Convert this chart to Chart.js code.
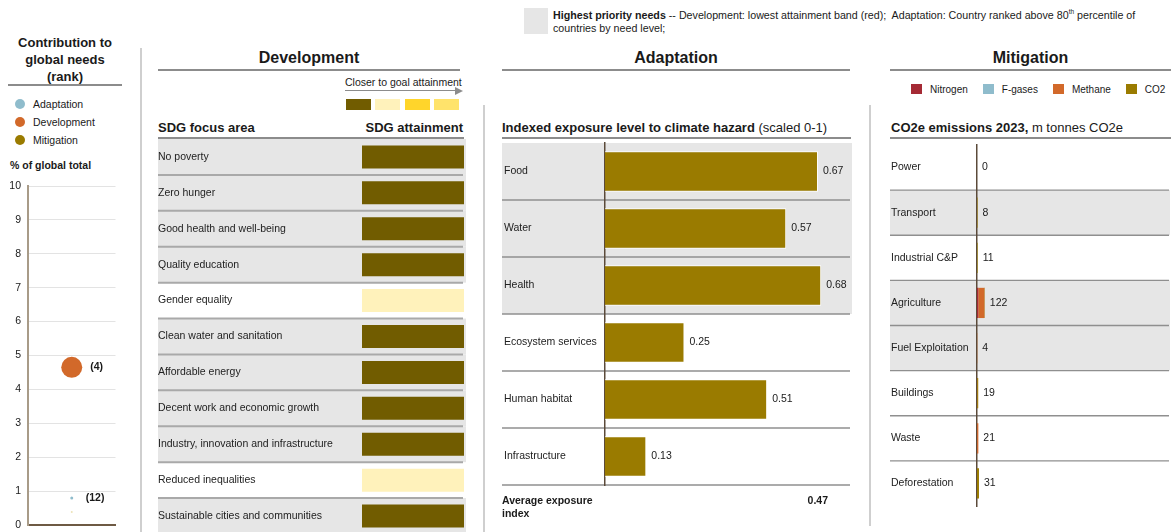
<!DOCTYPE html>
<html lang="en">
<head>
<meta charset="UTF-8">
<title>Contribution to global needs</title>
<style>
  body { margin:0; width:1171px; height:532px; overflow:hidden; background:#fff; position:relative;
         font-family: Arial, "Liberation Sans", sans-serif; color:#1a1a1a; }
  .abs { position:absolute; white-space:nowrap; }
  .title { font-weight:bold; font-size:16px; line-height:20px; text-align:center; }
  .sub { font-size:13px; line-height:16px; }
  .rule { position:absolute; height:0; border-top:2px solid #8c8c8c; }
  .vline { position:absolute; width:0; border-left:2px solid #cfcfcf; }
  .small { font-size:10.5px; line-height:13px; }
  canvas { position:absolute; }
  .lg { height:18px; line-height:18px; font-size:10.5px; display:flex; align-items:center; }
  .dot { width:10px; height:10px; border-radius:50%; margin:0 8px 0 15px; display:inline-block; }
  .gas { display:flex; align-items:center; margin-right:15px; font-size:10px; }
  .gas span { width:11px; height:10px; display:inline-block; margin-right:8px; }
  .sw { position:absolute; top:99px; width:25px; height:11px; }
</style>
</head>
<body>

<!-- top note -->
<div class="abs" style="left:524px;top:8px;width:24px;height:26px;background:#e6e6e6"></div>
<div class="abs" style="left:553px;top:8.5px;font-size:10.7px;line-height:13px">
<b>Highest priority needs</b> -- Development: lowest attainment band (red);&nbsp; Adaptation: Country ranked above 80<sup style="font-size:6.5px;line-height:0">th</sup> percentile of<br>countries by need level;</div>

<!-- left panel -->
<div class="abs title" style="left:0;width:130px;top:33.5px;font-size:13px;line-height:17px">Contribution to<br>global needs<br>(rank)</div>
<div class="rule" style="left:8px;width:114px;top:84px"></div>
<div id="rankLegend" class="abs" style="left:0;top:95px"></div>
<div class="abs small" style="left:10px;top:158.5px;font-weight:bold">% of global total</div>
<canvas id="rankChart" width="126" height="375" style="left:0;top:172px"></canvas>
<div class="vline" style="left:140px;top:48px;height:484px"></div>

<!-- development -->
<div class="abs title" style="left:158px;width:302px;top:48px">Development</div>
<div class="rule" style="left:158px;width:302px;top:69px"></div>
<div class="abs small" style="left:345px;top:75.5px">Closer to goal attainment</div>
<div class="abs" style="left:345px;top:90px;width:111px;border-top:1.5px solid #8c8c8c"></div>
<div class="abs" style="left:455px;top:86.5px;width:0;height:0;border-top:4.5px solid transparent;border-bottom:4.5px solid transparent;border-left:8px solid #8c8c8c"></div>
<div id="bandLegend"></div>
<div class="abs sub" style="left:158px;top:120px;font-weight:bold">SDG focus area</div>
<div class="abs sub" style="right:708px;top:120px;font-weight:bold">SDG attainment</div>
<div class="rule" style="left:158px;width:306px;top:137px"></div>
<canvas id="sdgChart" width="308" height="415" style="left:158px;top:129px"></canvas>
<div class="vline" style="left:483px;top:105px;height:427px"></div>

<!-- adaptation -->
<div class="abs title" style="left:502px;width:348px;top:48px">Adaptation</div>
<div class="rule" style="left:502px;width:348px;top:69px"></div>
<div class="abs sub" style="left:502px;top:120px"><b>Indexed exposure level to climate hazard</b> (scaled 0-1)</div>
<div class="rule" style="left:502px;width:349px;top:137px"></div>
<canvas id="hazardChart" width="351" height="362" style="left:502px;top:133px"></canvas>
<div class="abs small" style="left:502px;top:493.5px;font-weight:bold">Average exposure<br>index</div>
<div id="avgValue" class="abs small" style="right:343px;top:493.5px;font-weight:bold"></div>
<div class="vline" style="left:869px;top:105px;height:421px"></div>

<!-- mitigation -->
<div class="abs title" style="left:890px;width:281px;top:48px">Mitigation</div>
<div class="rule" style="left:890px;width:281px;top:69px"></div>
<div id="gasLegend" class="abs" style="left:911px;top:82.5px;display:flex;height:13px"></div>
<div class="abs sub" style="left:891px;top:120px"><b>CO2e emissions 2023,</b> m tonnes CO2e</div>
<div class="rule" style="left:890px;width:281px;top:137px"></div>
<canvas id="emisChart" width="280" height="381" style="left:890px;top:135px"></canvas>

<script src="https://cdn.jsdelivr.net/npm/chart.js"></script>
<script>
// ---- data ----
const rankSeries = ['Adaptation', 'Development', 'Mitigation'];
const rankShare = [0.8, 4.65, 0.38];     // % of global total
const rankPos = [12, 4, null];
const rankTicks = [0, 1, 2, 3, 4, 5, 6, 7, 8, 9, 10];

const sdgAreas = ['No poverty', 'Zero hunger', 'Good health and well-being', 'Quality education',
  'Gender equality', 'Clean water and sanitation', 'Affordable energy', 'Decent work and economic growth',
  'Industry, innovation and infrastructure', 'Reduced inequalities', 'Sustainable cities and communities'];
const sdgBand = [0, 0, 0, 0, 1, 0, 0, 0, 0, 1, 0];   // 0 = furthest from goal

const hazards = ['Food', 'Water', 'Health', 'Ecosystem services', 'Human habitat', 'Infrastructure'];
const exposure = [0.67, 0.57, 0.68, 0.25, 0.51, 0.13];
const hazardPriority = [true, true, true, false, false, false];
const avgExposure = 0.47;

const sectors = ['Power', 'Transport', 'Industrial C&P', 'Agriculture', 'Fuel Exploitation',
  'Buildings', 'Waste', 'Deforestation'];
const gases = ['Nitrogen', 'F-gases', 'Methane', 'CO2'];
const nitrogen = [0, 0, 0, 20, 0, 0, 1, 0];
const fgases = [0, 0, 1, 0, 0, 0, 0, 0];
const methane = [0, 0, 0, 95, 3, 2, 20, 0];
const co2 = [0, 8, 10, 7, 1, 17, 0, 31];
const sectorPriority = [false, true, false, true, true, false, false, false];

// ---- styles ----
const FONT = 'Arial, "Liberation Sans", sans-serif';
const rankColors = ['#8fbccc', '#d2692a', '#9a7b00'];
const rankPointColors = ['#8fbccc', '#d2692a', '#ece3b8'];
const rankRadius = [1.5, 10.5, 1];
const bandColors = ['#715c00', '#fff2bb', '#ffd52b', '#ffe36b'];
const gasColors = ['#a52a35', '#8fbccc', '#d2692a', '#9a7b00'];
const GREY = '#e6e6e6';

Chart.defaults.font.family = FONT;
Chart.defaults.font.size = 10.5;
Chart.defaults.color = '#1a1a1a';
Chart.defaults.animation = false;
Chart.defaults.plugins.legend.display = false;
Chart.defaults.plugins.tooltip.enabled = false;

// html legends
const rl = document.getElementById('rankLegend');
rankSeries.forEach((n, i) => {
  rl.insertAdjacentHTML('beforeend', `<div class="lg"><span class="dot" style="background:${rankColors[i]}"></span>${n}</div>`);
});
const bl = document.getElementById('bandLegend');
bandColors.forEach((c, i) => {
  bl.insertAdjacentHTML('beforeend', `<div class="sw" style="left:${346 + i * 29.3}px;background:${c}"></div>`);
});
const gl = document.getElementById('gasLegend');
gases.forEach((g, i) => {
  gl.insertAdjacentHTML('beforeend', `<div class="gas"><span style="background:${gasColors[i]}"></span>${g}</div>`);
});
document.getElementById('avgValue').textContent = avgExposure.toFixed(2);

// row backgrounds + separators
const rowBands = {
  id: 'rowBands',
  beforeDraw(chart, args, opts) {
    const {ctx, chartArea} = chart;
    const n = chart.data.labels.length;
    const h = (chartArea.bottom - chartArea.top) / n;
    const x1 = chartArea.right + (opts.extend || 0);
    ctx.save();
    ctx.fillStyle = GREY;
    opts.priority.forEach((p, i) => {
      if (p) ctx.fillRect(0, chartArea.top + i * h, x1, h);
    });
    ctx.strokeStyle = opts.lineColor;
    ctx.lineWidth = opts.lineWidth;
    const last = opts.lastLine ? n : n - 1;
    for (let i = 1; i <= last; i++) {
      const y = chartArea.top + i * h;
      ctx.beginPath();
      ctx.moveTo(0, y);
      ctx.lineTo(chartArea.right + (opts.lineExtend || 0), y);
      ctx.stroke();
    }
    ctx.restore();
  }
};

// value labels at bar ends
const endLabels = {
  id: 'endLabels',
  afterDatasetsDraw(chart, args, opts) {
    const {ctx} = chart;
    const x = chart.scales.x, y = chart.scales.y;
    ctx.save();
    ctx.font = '10.5px ' + FONT;
    ctx.fillStyle = '#1a1a1a';
    ctx.textBaseline = 'middle';
    opts.values.forEach((v, i) => {
      ctx.fillText(opts.format(v), x.getPixelForValue(v) + 5, y.getPixelForValue(i));
    });
    ctx.restore();
  }
};

const rankLabels = {
  id: 'rankLabels',
  afterDatasetsDraw(chart) {
    const {ctx} = chart;
    ctx.save();
    ctx.font = 'bold 10.5px ' + FONT;
    ctx.fillStyle = '#1a1a1a';
    ctx.textBaseline = 'middle';
    chart.data.datasets.forEach((ds, i) => {
      if (rankPos[i] == null) return;
      const pt = chart.getDatasetMeta(i).data[0];
      ctx.fillText('(' + rankPos[i] + ')', pt.x + Math.max(ds.pointRadius + 8, 14), pt.y);
    });
    ctx.restore();
  }
};

// ---- rank chart ----
new Chart(document.getElementById('rankChart'), {
  type: 'line',
  data: {
    labels: ['share'],
    datasets: rankSeries.map((n, i) => ({
      label: n,
      data: [rankShare[i]],
      showLine: false,
      pointRadius: rankRadius[i],
      pointBackgroundColor: rankPointColors[i],
      pointBorderWidth: 0
    }))
  },
  options: {
    responsive: false,
    layout: { padding: { top: 14, bottom: 14, right: 4 } },
    scales: {
      x: { offset: true, ticks: { display: false }, grid: { display: false },
           border: { color: '#6e5a44', width: 2 } },
      y: { min: 0, max: 10,
           afterBuildTicks(s) { s.ticks = rankTicks.map(v => ({ value: v })); },
           ticks: { padding: 7, font: { size: 10.5 } },
           grid: { color: '#e3e3e3', drawTicks: false },
           border: { color: '#a89b88', width: 2 },
           afterFit(s) { s.width = 28; } }
    }
  },
  plugins: [rankLabels]
});

// ---- SDG attainment ----
new Chart(document.getElementById('sdgChart'), {
  type: 'bar',
  data: {
    labels: sdgAreas,
    datasets: [{
      data: sdgBand.map(() => 1),
      backgroundColor: sdgBand.map(b => bandColors[b]),
      barPercentage: 0.64,
      categoryPercentage: 1
    }]
  },
  options: {
    indexAxis: 'y',
    responsive: false,
    layout: { padding: { top: 10, bottom: 10, right: 2 } },
    scales: {
      x: { display: false, min: 0, max: 1 },
      y: { ticks: { crossAlign: 'far', color: '#222' }, grid: { display: false },
           border: { display: false }, afterFit(s) { s.width = 204; } }
    },
    plugins: {
      rowBands: { priority: sdgBand.map(b => b === 0), extend: 2, lineColor: '#a9a9a9', lineWidth: 2, lineExtend: -1 }
    }
  },
  plugins: [rowBands]
});

// ---- adaptation ----
new Chart(document.getElementById('hazardChart'), {
  type: 'bar',
  data: {
    labels: hazards,
    datasets: [{
      data: exposure,
      backgroundColor: '#9a7b00',
      borderColor: '#ffffff',
      borderWidth: 1,
      barPercentage: 0.71,
      categoryPercentage: 1
    }]
  },
  options: {
    indexAxis: 'y',
    responsive: false,
    layout: { padding: { top: 10, bottom: 10, left: 2 } },
    scales: {
      x: { display: false, min: 0, max: 0.78 },
      y: { ticks: { crossAlign: 'far', color: '#222' }, grid: { display: false },
           border: { color: '#5b4a3a', width: 1.5 }, afterFit(s) { s.width = 101; } }
    },
    plugins: {
      rowBands: { priority: hazardPriority, extend: -1, lineColor: '#8f8f8f', lineWidth: 1.3, lineExtend: -3, lastLine: true },
      endLabels: { values: exposure, format: v => v.toFixed(2) }
    }
  },
  plugins: [rowBands, endLabels]
});

// ---- mitigation ----
const gasSeries = [nitrogen, fgases, methane, co2];
const sectorTotals = sectors.map((s, i) => gasSeries.reduce((a, g) => a + g[i], 0));
new Chart(document.getElementById('emisChart'), {
  type: 'bar',
  data: {
    labels: sectors,
    datasets: gases.map((g, k) => ({
      label: g,
      data: gasSeries[k],
      backgroundColor: gasColors[k],
      borderWidth: 0,
      barPercentage: 0.67,
      categoryPercentage: 1
    }))
  },
  options: {
    indexAxis: 'y',
    responsive: false,
    layout: { padding: { top: 10, bottom: 10, left: 1, right: 1 } },
    scales: {
      x: { display: false, stacked: true, min: 0, max: 3000 },
      y: { stacked: true, ticks: { crossAlign: 'far', color: '#222' }, grid: { display: false },
           border: { color: '#5b4a3a', width: 1.5 }, afterFit(s) { s.width = 86; } }
    },
    plugins: {
      rowBands: { priority: sectorPriority, extend: 1, lineColor: '#8f8f8f', lineWidth: 1.3, lineExtend: 0 },
      endLabels: { values: sectorTotals, format: v => String(v) }
    }
  },
  plugins: [rowBands, endLabels]
});
</script>
</body>
</html>
